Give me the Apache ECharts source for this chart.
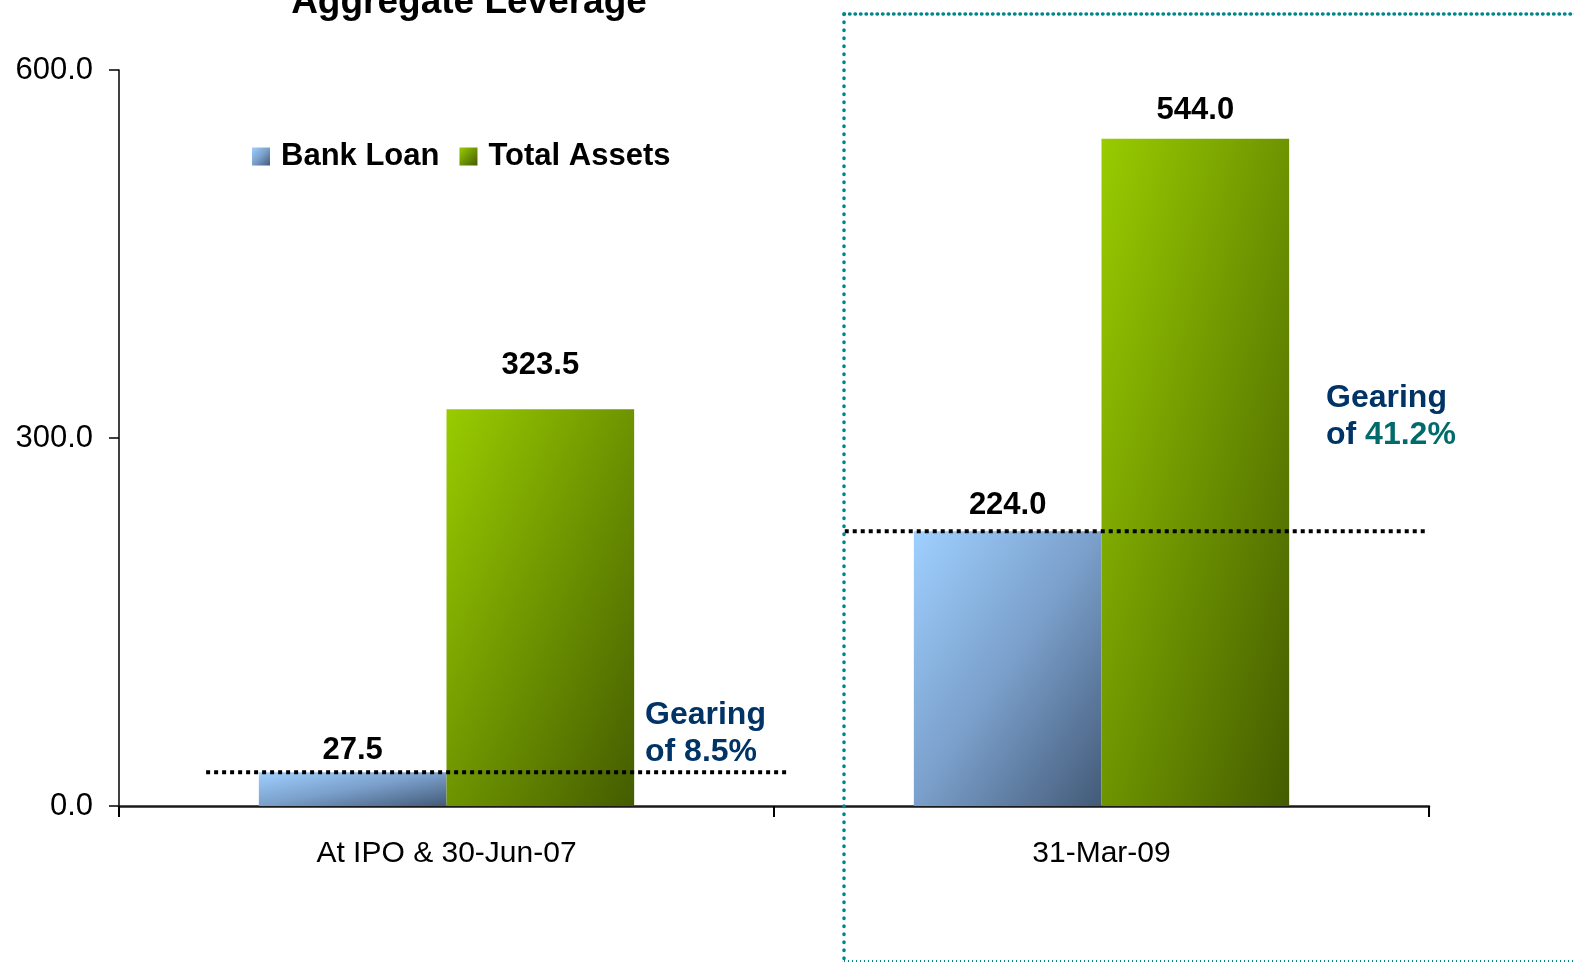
<!DOCTYPE html>
<html>
<head>
<meta charset="utf-8">
<title>Aggregate Leverage</title>
<script src="https://cdn.jsdelivr.net/npm/echarts@6/dist/echarts.min.js"></script>
<style>
  html, body { margin: 0; padding: 0; background: #fff; }
  #chart { width: 1574px; height: 964px; }
</style>
</head>
<body>
<div id="chart"></div>
<script>
/* ---------- data ---------- */
const categories = ['At IPO & 30-Jun-07', '31-Mar-09'];
const bankLoan = [27.5, 224.0];
const totalAssets = [323.5, 544.0];
const gearing = ['8.5%', '41.2%'];
const yMin = 0, yMax = 600, yStep = 300;

/* ---------- layout / style ---------- */
const FONT = '"Liberation Sans", Arial, sans-serif';
const GRID = { left: 119, right: 145, top: 70, bottom: 158 };
const PLOT_H = 964 - GRID.top - GRID.bottom;
const BAR_W = 187.5;
const labelDist = { bank: [6, 10], total: [28, 13] };
// x-extent of the dotted gearing lines, in units of category width (hidden value axis 0..2)
const gearingSpan = [[0.133, 1.024], [1.108, 1.998]];

const blueStops = [
  { offset: 0, color: '#9fd0ff' },
  { offset: 0.5, color: '#7a9fca' },
  { offset: 1, color: '#435a78' }
];
const greenStops = [
  { offset: 0, color: '#99cc00' },
  { offset: 0.5, color: '#6e9400' },
  { offset: 1, color: '#445c00' }
];
// diagonal fill: colour isolines run corner to corner (top-right to bottom-left)
function diagGrad(v, stops) {
  const h = v * PLOT_H / (yMax - yMin), w = BAR_W, d = h * h + w * w;
  return new echarts.graphic.LinearGradient(0, 0, 2 * h * h / d, 2 * w * w / d, stops);
}

const labelStyle = {
  show: true, position: 'top', color: '#000',
  fontFamily: FONT, fontWeight: 'bold', fontSize: 31,
  formatter: p => p.value.toFixed(1)
};

const chart = echarts.init(document.getElementById('chart'));

chart.setOption({
  backgroundColor: '#fff',
  animation: false,
  textStyle: { fontFamily: FONT },
  grid: Object.assign({ containLabel: false }, GRID),
  legend: {
    left: 247, top: 136,
    itemWidth: 18, itemHeight: 18, itemGap: 20,
    icon: 'rect',
    data: ['Bank Loan', 'Total Assets'],
    textStyle: { fontFamily: FONT, fontWeight: 'bold', fontSize: 31, color: '#000', padding: [0, 0, 0, 6] }
  },
  xAxis: [{
    type: 'category',
    data: categories,
    axisLine: { lineStyle: { color: '#1a1a1a', width: 2.5 } },
    axisTick: { show: true, length: 11, lineStyle: { color: '#000', width: 2 } },
    axisLabel: { fontSize: 30, color: '#000', margin: 33, fontFamily: FONT }
  }, {
    type: 'value', min: 0, max: 2, show: false
  }],
  yAxis: {
    type: 'value', min: yMin, max: yMax, interval: yStep,
    splitLine: { show: false },
    axisLine: { show: true, lineStyle: { color: '#000', width: 1.5 } },
    axisTick: { show: true, length: 10, lineStyle: { color: '#000', width: 1.5 } },
    axisLabel: {
      fontSize: 31, color: '#000', margin: 26, fontFamily: FONT,
      formatter: v => v.toFixed(1)
    }
  },
  series: [{
    name: 'Bank Loan', type: 'bar',
    barGap: '0%', barCategoryGap: '42.7%',
    itemStyle: { color: new echarts.graphic.LinearGradient(0, 0, 1, 1, blueStops) },
    label: labelStyle,
    data: bankLoan.map((v, i) => ({
      value: v,
      itemStyle: { color: diagGrad(v, blueStops) },
      label: { distance: labelDist.bank[i] }
    }))
  }, {
    name: 'Total Assets', type: 'bar',
    barGap: '0%', barCategoryGap: '42.7%',
    itemStyle: { color: new echarts.graphic.LinearGradient(0, 0, 1, 1, greenStops) },
    label: labelStyle,
    data: totalAssets.map((v, i) => ({
      value: v,
      itemStyle: { color: diagGrad(v, greenStops) },
      label: { distance: labelDist.total[i] }
    }))
  },
  // dotted gearing lines at the bank-loan level
  ...bankLoan.map((v, i) => ({
    type: 'line', xAxisIndex: 1, yAxisIndex: 0, z: 5,
    symbol: 'none', silent: true,
    lineStyle: { color: '#000', width: 4, type: [4, 4] },
    data: [[gearingSpan[i][0], v], [gearingSpan[i][1], v]]
  }))],
  graphic: [
    {
      type: 'text', x: 469, y: 21, z: 10,
      style: {
        text: 'Aggregate Leverage', fill: '#000',
        font: 'bold 37px ' + FONT, align: 'center', verticalAlign: 'bottom'
      }
    },
    {
      type: 'text', x: 645, y: 697, z: 10,
      style: {
        text: 'Gearing\nof ' + gearing[0], fill: '#003366',
        font: 'bold 32px ' + FONT, lineHeight: 37, verticalAlign: 'top'
      }
    },
    {
      type: 'text', x: 1326, y: 380, z: 10,
      style: {
        text: '{a|Gearing}\n{a|of }{b|' + gearing[1] + '}',
        verticalAlign: 'top',
        rich: {
          a: { fill: '#003366', font: 'bold 32px ' + FONT, lineHeight: 37 },
          b: { fill: '#006b6b', font: 'bold 32px ' + FONT, lineHeight: 37 }
        }
      }
    },
    // teal dotted frame around the latest period
    {
      type: 'polyline', z: 20, silent: true,
      shape: { points: [[844, 14], [1580, 14]] },
      style: { stroke: '#00868b', lineWidth: 3.5, lineDash: [0.5, 5], lineCap: 'round', fill: null }
    },
    {
      type: 'polyline', z: 20, silent: true,
      shape: { points: [[844, 14], [844, 960]] },
      style: { stroke: '#00868b', lineWidth: 3.5, lineDash: [0.5, 7.5], lineCap: 'round', fill: null }
    },
    {
      type: 'polyline', z: 20, silent: true,
      shape: { points: [[844, 961], [1580, 961]] },
      style: { stroke: '#00868b', lineWidth: 2, lineDash: [1, 3], fill: null }
    }
  ]
});
</script>
</body>
</html>
